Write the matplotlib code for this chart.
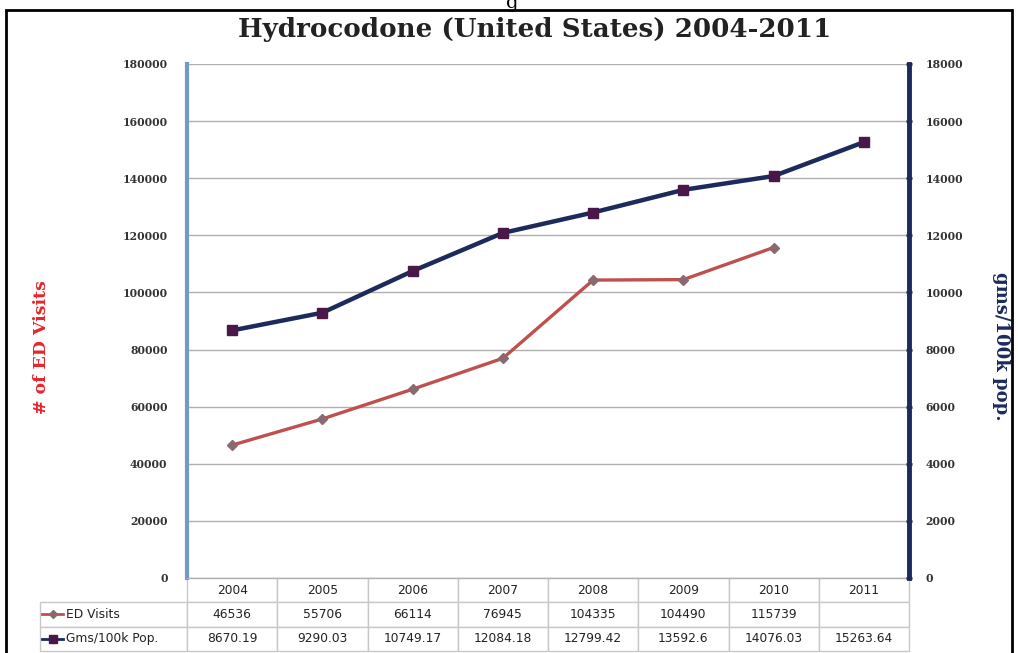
import numpy as np
import matplotlib.pyplot as plt
from matplotlib.lines import Line2D
from matplotlib.patches import Rectangle

years = ['2004', '2005', '2006', '2007', '2008', '2009', '2010', '2011']
ed_visits = [46536, 55706, 66114, 76945, 104335, 104490, 115739, None]
gms_pop = [8670.19, 9290.03, 10749.17, 12084.18, 12799.42, 13592.6, 14076.03, 15263.64]
ed_text = ['46536', '55706', '66114', '76945', '104335', '104490', '115739', '']
gms_text = ['8670.19', '9290.03', '10749.17', '12084.18', '12799.42', '13592.6', '14076.03', '15263.64']

red = '#c0504d'
navy = '#1c2a5c'
tick_font = {'family': 'DejaVu Serif', 'weight': 'bold', 'size': 7.8, 'color': '#333333'}

fig = plt.figure(figsize=(10.18, 6.53), dpi=100)
ax = fig.add_axes([187/1018, 1-578/653, 722/1018, 514/653])
ax2 = ax.twinx()

x = np.arange(len(years))
ed_x = [i for i, v in zip(x, ed_visits) if v is not None]
ed_y = [v for v in ed_visits if v is not None]
ax.plot(ed_x, ed_y, color=red, lw=2.4, marker='D', ms=5.5, mfc='#8a6a70', mec='#8a6a70', zorder=3)
ax2.plot(x, gms_pop, color=navy, lw=3.2, marker='s', ms=7, mfc='#4a1848', mec='#4a1848', zorder=3)

ax.set_xlim(-0.5, len(years) - 0.5)
ax.set_ylim(0, 180000)
ax2.set_ylim(0, 18000)
ax.set_yticks(np.arange(0, 180001, 20000))
ax2.set_yticks(np.arange(0, 18001, 2000))
ax.set_yticklabels([str(v) for v in range(0, 180001, 20000)], fontdict=tick_font)
ax2.set_yticklabels([str(v) for v in range(0, 18001, 2000)], fontdict=tick_font)
ax.set_xticks([])
ax.grid(axis='y', color='#b0b0b0', lw=1)
ax.tick_params(axis='y', length=0, pad=14)
ax2.tick_params(axis='y', length=4, width=2, color=navy, direction='inout', pad=10)

ax.spines['top'].set_visible(False)
ax2.spines['top'].set_visible(False)
ax.spines['right'].set_visible(False)
ax.spines['bottom'].set_color('#b0b0b0')
ax2.spines['bottom'].set_visible(False)
ax.spines['left'].set_color('#6f9bc8')
ax.spines['left'].set_linewidth(3)
ax2.spines['left'].set_visible(False)
ax2.spines['right'].set_color(navy)
ax2.spines['right'].set_linewidth(3.5)

ax.set_ylabel('# of ED Visits', color='#e8252a', fontsize=12.5, fontweight='bold',
              family='DejaVu Serif', labelpad=0)
ax.yaxis.set_label_coords(-0.19, 0.45)
ax2.set_ylabel('gms/100k pop.', color=navy, fontsize=13, fontweight='bold',
               family='DejaVu Serif', rotation=-90, labelpad=0)
ax2.yaxis.set_label_coords(1.14, 0.45)

fig.text(0.525, 1-30/653, 'Hydrocodone (United States) 2004-2011', ha='center', va='center',
         fontsize=18.8, fontweight='bold', family='DejaVu Serif', color='#222222')

# data table under the axis
cells = [[''] + years, ['ED Visits'] + ed_text, ['Gms/100k Pop.'] + gms_text]
tbl = ax.table(cellText=cells, cellLoc='center', colWidths=[147] + [90.25] * 8,
               bbox=[-147/722, -73/514, 869/722, 73/514])
tbl.auto_set_font_size(False)
for (r, c), cell in tbl.get_celld().items():
    cell.set_edgecolor('#c8c8c8')
    cell.set_linewidth(1)
    cell.get_text().set_fontsize(8.8)
    cell.get_text().set_color('#222222')
    if r == 0 and c == 0:
        cell.visible_edges = ''
    if c == 0 and r > 0:
        cell.set_text_props(ha='left')
        cell.PAD = 0.18

# legend keys inside the table
key_x = [-145/722, -124/722]
for row, col, mk, mc, ms in [(1, red, 'D', '#8a6a70', 4.5), (2, navy, 's', '#4a1848', 5.5)]:
    yk = -(12 + 24.3 * row) / 514
    ax.add_line(Line2D(key_x, [yk, yk], transform=ax.transAxes, color=col, lw=2, clip_on=False))
    ax.add_line(Line2D([sum(key_x) / 2], [yk], transform=ax.transAxes, color=col, marker=mk,
                       ms=ms, mfc=mc, mec=mc, clip_on=False))

# page frame
fig.add_artist(Rectangle((6/1018, -0.01), 1006/1018, 1-10/653 + 0.01, fill=False,
                         lw=2, ec='black', transform=fig.transFigure))
fig.text(0.503, 0.995, 'g', ha='center', va='center', fontsize=14, family='DejaVu Serif')

fig.savefig('out.png', dpi=100)
